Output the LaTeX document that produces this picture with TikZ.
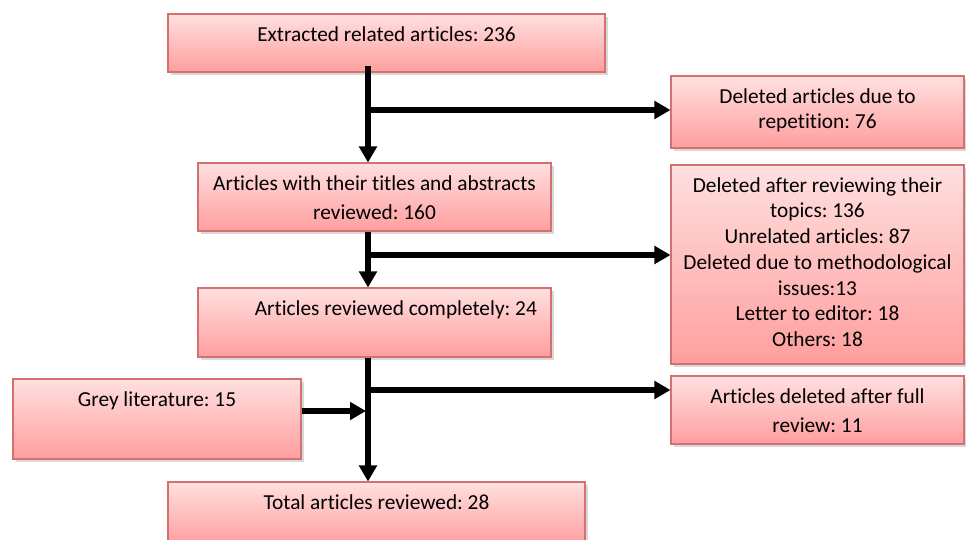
\documentclass[tikz,border=0pt]{standalone}
\usepackage{fontspec}
\setmainfont{Carlito}[Ligatures=NoCommon]
\frenchspacing
\usetikzlibrary{arrows.meta}
\usetikzlibrary{shadows}
\definecolor{boxtop}{HTML}{FFE0E0}
\definecolor{boxbot}{HTML}{FF9E9E}
\definecolor{boxline}{HTML}{D47070}

\begin{document}
\begin{tikzpicture}[x=0.75pt,y=-0.75pt,
  stage/.style={draw=boxline, line width=0.8pt, top color=boxtop, bottom color=boxbot,
    inner sep=0pt, drop shadow={shadow xshift=2pt, shadow yshift=-2pt, opacity=0.3}},
  caption/.style={anchor=north, inner sep=0pt, align=center, font=\fontsize{16}{19.3}\selectfont},
  flow/.style={line width=3.8pt, -{Triangle[length=12pt,width=13pt]}}]
  % Boundary
  \useasboundingbox (0,0) rectangle (966,539);
  % Main stages
  \node[stage, minimum width=327.75pt, minimum height=43.5pt] (ext) at (386.5,43) {};
  \node[stage, minimum width=264.75pt, minimum height=51pt] (tit) at (374.5,197) {};
  \node[stage, minimum width=264.75pt, minimum height=51.75pt] (full) at (374.5,322.5) {};
  \node[stage, minimum width=312.75pt, minimum height=47.25pt] (tot) at (376.5,513.5) {};
  \node[stage, minimum width=216pt, minimum height=60pt] (grey) at (157,419) {};
  % Excluded stages
  \node[stage, minimum width=219.75pt, minimum height=54pt] (rep) at (817.5,112) {};
  \node[stage, minimum width=219.75pt, minimum height=149.25pt] (top) at (817.5,264.5) {};
  \node[stage, minimum width=219.75pt, minimum height=51pt] (del) at (817.5,410) {};
  % Texts
  \node[caption, yshift=-9.5pt] (extT) at (ext.north) {Extracted related articles: 236};
  \node[caption, yshift=-9.5pt] (titT) at (tit.north) {Articles with their titles and abstracts\\[3pt] reviewed: 160};
  \node[caption, yshift=-9.5pt, xshift=16pt] (fullT) at (full.north) {Articles reviewed completely: 24};
  \node[caption, yshift=-9.5pt] (totT) at (tot.north) {Total articles reviewed: 28};
  \node[caption, yshift=-9.5pt] (greyT) at (grey.north) {Grey literature: 15};
  \node[caption, yshift=-9.5pt] (repT) at (rep.north) {Deleted articles due to\\ repetition: 76};
  \node[caption, yshift=-9.5pt] (topT) at (top.north) {Deleted after reviewing their\\ topics: 136\\ Unrelated articles: 87\\
    Deleted due to methodological\\ issues:13\\ Letter to editor: 18\\ Others: 18};
  \node[caption, yshift=-9.5pt] (delT) at (del.north) {Articles deleted after full\\[3pt] review: 11};
  % Junctions
  \coordinate (j1) at (368,110);
  \coordinate (j2) at (368,255);
  \coordinate (j3) at (368,390);
  \coordinate (j4) at (366,411);
  % Arrows
  \draw[flow, shorten <=-5pt] (j1 |- ext.south) -- (j1 |- tit.north);
  \draw[flow] (j1) -- (j1 -| rep.west);
  \draw[flow] (j2 |- tit.south) -- (j2 |- full.north);
  \draw[flow] (j2) -- (j2 -| top.west);
  \draw[flow] (j3 |- full.south) -- (j3 |- tot.north);
  \draw[flow] (j3) -- (j3 -| del.west);
  \draw[flow] (grey.east |- j4) -- (j4);
\end{tikzpicture}
\end{document}
